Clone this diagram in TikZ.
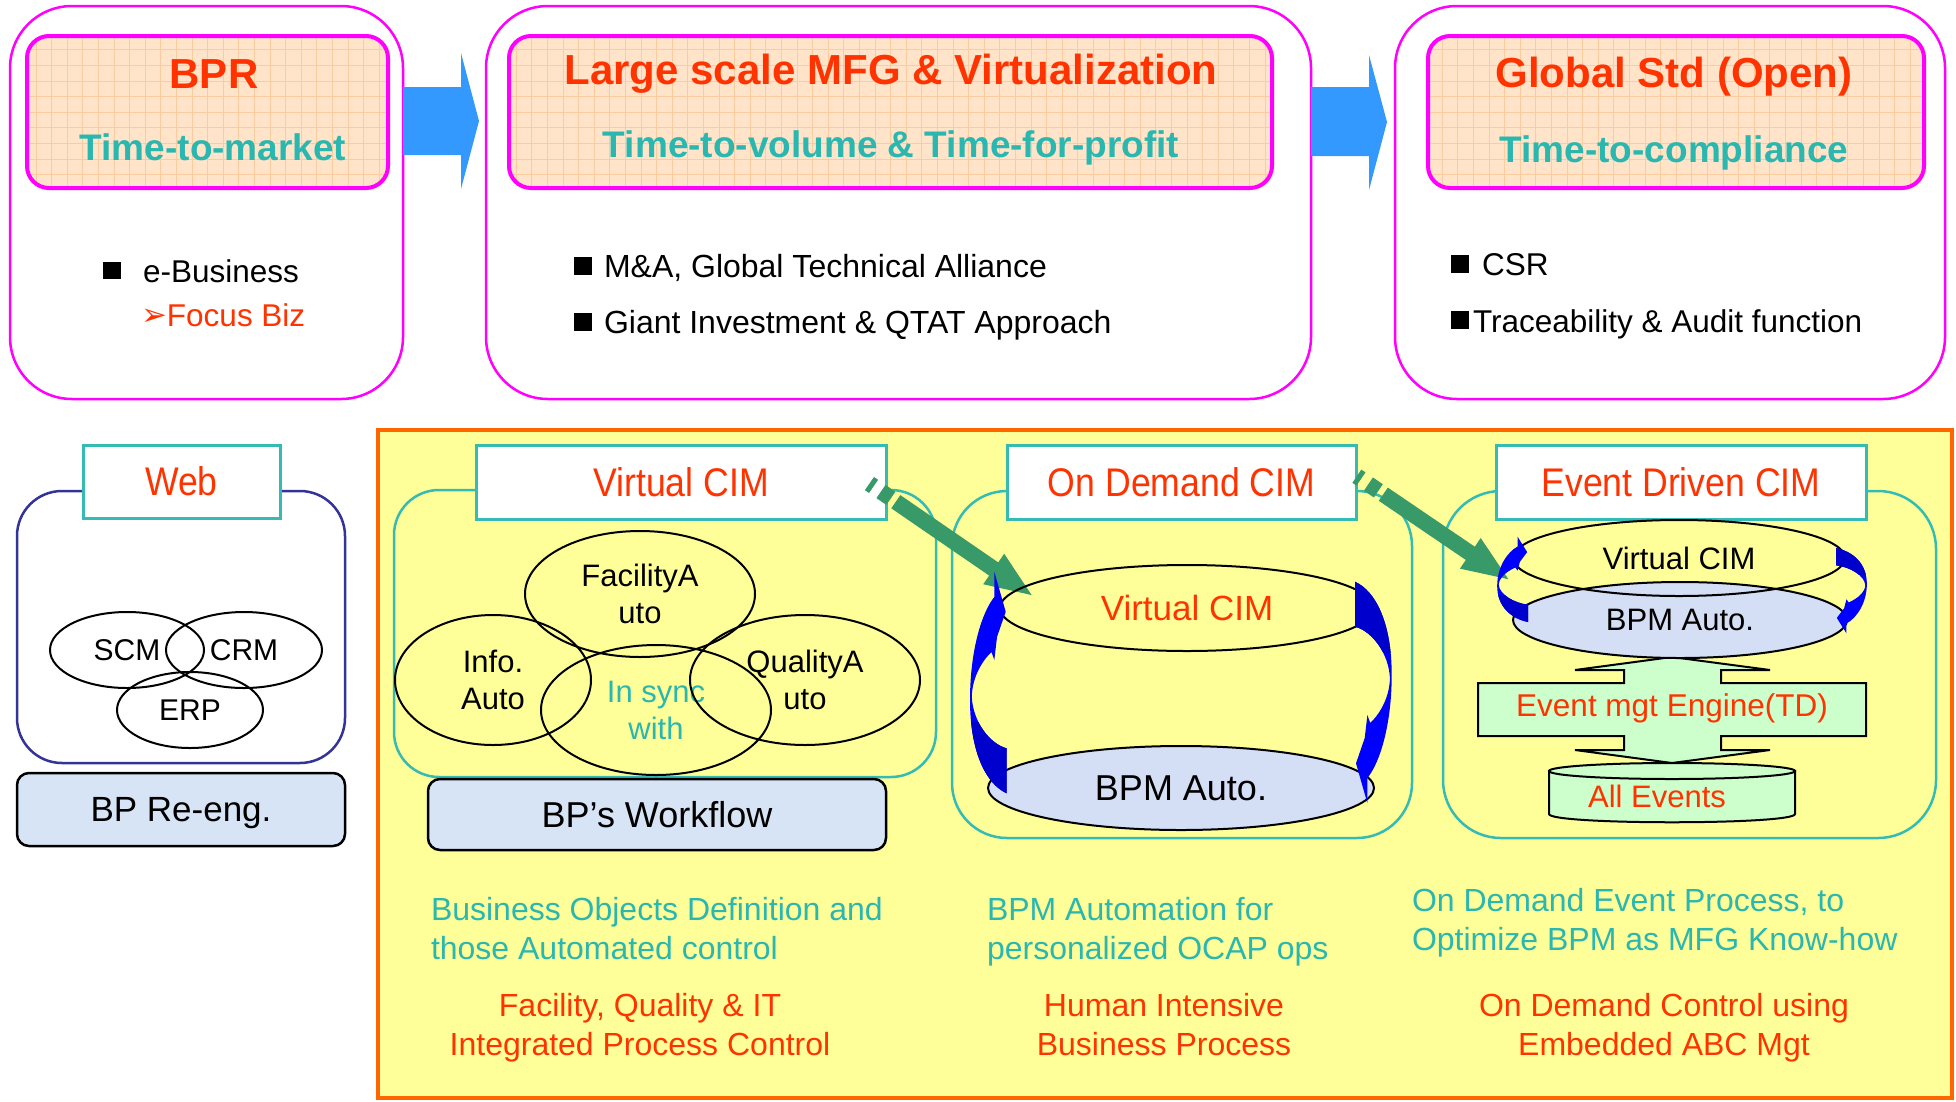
\documentclass[tikz,border=0pt]{standalone}
\usepackage{fontspec}
\setmainfont{Liberation Sans}
\newfontfamily\narrowfont[FakeStretch=0.89]{Liberation Sans}
\newfontfamily\dejavu{DejaVu Sans}
\usetikzlibrary{shapes.geometric}
\definecolor{magentaB}{RGB}{255,0,255}
\definecolor{redT}{RGB}{255,51,0}
\definecolor{tealT}{RGB}{42,183,175}
\definecolor{tealL}{RGB}{51,187,180}
\definecolor{peach}{RGB}{255,228,202}
\definecolor{gridC}{RGB}{250,204,160}
\definecolor{arrowBlue}{RGB}{51,153,255}
\definecolor{navyB}{RGB}{51,51,153}
\definecolor{orangeF}{RGB}{255,102,0}
\definecolor{yellowF}{RGB}{255,255,153}
\definecolor{greenA}{RGB}{56,154,104}
\definecolor{lightGreen}{RGB}{204,255,204}
\definecolor{ribbonBlue}{RGB}{0,0,255}
\definecolor{ribbonDark}{RGB}{0,0,204}
\definecolor{texBlue}{RGB}{214,228,245}
\definecolor{texLav}{RGB}{212,222,245}
\newcommand{\fsz}[2]{\fontsize{#1}{#2}\selectfont}
\newcommand{\ribbon}{%
 \fill[ribbonBlue] (1006.7,748.3) -- (1006.7,793.3) .. controls (986,784) and (970,752) .. (970,700) .. controls (970,650) and (982,612) .. (994.3,597) -- (994.3,571.7) -- (1005.7,611.7) -- (997,637) -- (994.3,660) -- (991.5,652) .. controls (980,663) and (972,680) .. (971.8,697) .. controls (973,722) and (990,744) .. (1006.7,748.3) -- cycle;
 \begin{scope}
 \clip (1006.7,748.3) -- (1006.7,793.3) .. controls (986,784) and (970,752) .. (970,700) .. controls (970,650) and (982,612) .. (994.3,597) -- (994.3,571.7) -- (1005.7,611.7) -- (997,637) -- (994.3,660) -- (991.5,652) .. controls (980,663) and (972,680) .. (971.8,697) .. controls (973,722) and (990,744) .. (1006.7,748.3) -- cycle;
 \fill[ribbonDark] (955,722) rectangle (1012,800);
 \end{scope}}
\newcommand{\greenarrow}[1]{%
 \fill[greenA] (0,-8) -- ({#1-46},-8) -- ({#1-46},-18.5) -- (#1,0) -- ({#1-46},18.5) -- ({#1-46},8) -- (0,8) -- cycle;
 \fill[greenA] (-18,-8) rectangle (-6,8);
 \fill[greenA] (-32,-8) rectangle (-27,8);}
\begin{document}
\begin{tikzpicture}[x=1pt,y=-1pt,
  every node/.style={inner sep=0pt, outer sep=0pt},
  outerbox/.style={draw=magentaB, line width=2.5pt, rounded corners=62pt, fill=white, minimum height=393pt},
  headbox/.style={draw=magentaB, line width=4pt, rounded corners=22pt, fill=peach, minimum height=152pt,
    path picture={\draw[gridC, line width=0.5pt, step=15.6pt] (path picture bounding box.south west) grid (path picture bounding box.north east);}},
  headtxt/.style={anchor=base, font=\bfseries\fsz{42}{42}, text=redT},
  subtxt/.style={anchor=base, font=\bfseries\fsz{37}{37}, text=tealT},
  bullettxt/.style={anchor=base west, font=\fsz{31.5}{31.5}},
  titlebox/.style={draw=tealL, line width=3pt, fill=white, font=\narrowfont\fsz{40}{40}, text=redT, minimum height=74pt},
  cimbox/.style={draw=tealL, line width=2.5pt},
  ell/.style={ellipse, draw=black, line width=2pt, font=\fsz{31}{37}, align=center},
  procbox/.style={draw=black, line width=2.5pt, rounded corners=12pt, fill=texBlue, text depth=0pt},
  tealnote/.style={anchor=north west, align=left, font=\fsz{32}{39}, text=tealT},
  rednote/.style={anchor=north, align=center, font=\fsz{32}{39}, text=redT}
]
\useasboundingbox (0,0) rectangle (1956,1101);
\fill[white] (0,0) rectangle (1956,1101);

% ---------- top row ----------
\node[outerbox, minimum width=393pt] (top1) at (206.5,202.5) {};
\node[outerbox, minimum width=825pt] (top2) at (898.5,202.5) {};
\node[outerbox, minimum width=550pt] (top3) at (1670,202.5) {};
\node[headbox, minimum width=361pt] (head1) at (207.5,112) {};
\node[headbox, minimum width=763pt] (head2) at (890.5,112) {};
\node[headbox, minimum width=496pt] (head3) at (1676,112) {};

\node[headtxt] (bpr) at (214,88) {BPR};
\node[subtxt] (ttm) at (213,160) {Time-to-market};
\node[headtxt] (lsm) at (891,84) {Large scale MFG \& Virtualization};
\node[subtxt] (ttv) at (891,157) {Time-to-volume \& Time-for-profit};
\node[headtxt] (gso) at (1674,87) {Global Std (Open)};
\node[subtxt] (ttc) at (1674,162) {Time-to-compliance};

\node[bullettxt] (eb) at (103,282) {\rule[3pt]{18pt}{17pt}\hspace{22pt}e-Business};
\node[bullettxt, text=redT] (fb) at (141,326) {\raisebox{1pt}{\dejavu\fsz{31}{31}➢}Focus Biz};
\node[bullettxt, font=\fsz{32}{32}] (ma) at (574,277) {\rule[2pt]{18pt}{18pt}\hspace{12pt}M\&A, Global Technical Alliance};
\node[bullettxt, font=\fsz{32}{32}] (gi) at (574,333) {\rule[2pt]{18pt}{18pt}\hspace{12pt}Giant Investment \& QTAT Approach};
\node[bullettxt] (csr) at (1451,275) {\rule[2pt]{18pt}{18pt}\hspace{13pt}CSR};
\node[bullettxt] (tra) at (1451,332) {\rule[3pt]{18pt}{18pt}\hspace{4pt}Traceability \& Audit function};

\fill[arrowBlue] (403,87) -- (461,87) -- (461,53) -- (479,121) -- (461,189) -- (461,155) -- (403,155) -- cycle;
\fill[arrowBlue] (1311,87) -- (1369,87) -- (1369,55) -- (1387,122) -- (1369,190) -- (1369,156) -- (1311,156) -- cycle;

% ---------- Web ----------
\node[draw=navyB, line width=2.5pt, rounded corners=45pt, fill=white, minimum width=328pt, minimum height=272pt] (webbox) at (181,627) {};
\node[titlebox, minimum width=197pt, minimum height=73pt] (webtitle) at (181.5,481.5) {Web};
\node[ell, minimum width=154pt, minimum height=76pt, font=\fsz{30}{30}] (scm) at (127,650) {SCM};
\node[ell, minimum width=156pt, minimum height=76pt, font=\fsz{30}{30}] (crm) at (244,650) {CRM};
\node[ell, minimum width=146pt, minimum height=76pt, font=\fsz{30}{30}] (erp) at (190,710) {ERP};
\node[procbox, minimum width=328pt, minimum height=73pt, font=\fsz{35}{35}] (bpre) at (181,809.5) {BP Re-eng.};

% ---------- main frame ----------
\node[draw=orangeF, line width=4.5pt, fill=yellowF, minimum width=1574pt, minimum height=668pt] (frame) at (1165,764) {};

\node[cimbox, rounded corners=45pt, minimum width=542pt, minimum height=287pt] (vbox) at (665,633.5) {};
\node[cimbox, rounded corners=55pt, minimum width=460pt, minimum height=347pt] (obox) at (1182,664.5) {};
\node[cimbox, rounded corners=58pt, minimum width=493pt, minimum height=347pt] (ebox) at (1689.5,664.5) {};
\node[titlebox, minimum width=410pt] (vtitle) at (681,482) {Virtual CIM};
\node[titlebox, minimum width=349pt] (otitle) at (1181.5,482) {On Demand CIM};
\node[titlebox, minimum width=370pt] (etitle) at (1681,482) {Event Driven CIM};

% Virtual CIM
\node[ell, minimum width=230pt, minimum height=126pt] (fac) at (640,594) {FacilityA\\uto};
\node[ell, minimum width=196pt, minimum height=130pt] (info) at (493,680) {Info.\\Auto};
\node[ell, minimum width=230pt, minimum height=130pt, text=tealT] (sync) at (656,710) {In sync\\with};
\node[ell, minimum width=230pt, minimum height=130pt] (qual) at (805,680) {QualityA\\uto};
\node[procbox, minimum width=458pt, minimum height=71pt, font=\fsz{36}{36}] (bpw) at (657,814.5) {BP’s Workflow};

% green striped arrows
\begin{scope}[shift={(895.8,501.7)}, rotate=-34.5]\greenarrow{164.8}\end{scope}
\begin{scope}[shift={(1383.3,494.2)}, rotate=-34.2]\greenarrow{151.2}\end{scope}

% On Demand CIM
\node[ell, minimum width=374pt, minimum height=86pt, font=\fsz{35}{35}, text=redT] (ovc) at (1187,608) {Virtual CIM};
\node[ell, minimum width=386pt, minimum height=84pt, fill=texLav, font=\fsz{36}{36}] (obpm) at (1181,788) {BPM Auto.};
\ribbon
\begin{scope}[rotate around={180:(1180.85,687.5)}]\ribbon\end{scope}

% Event Driven CIM
\filldraw[fill=lightGreen, draw=black, line width=2pt] (1672,657) -- (1770,670) -- (1721,670) -- (1721,683) -- (1866,683) -- (1866,736) -- (1721,736) -- (1721,750) -- (1770,750) -- (1672,763) -- (1575,750) -- (1624,750) -- (1624,736) -- (1478,736) -- (1478,683) -- (1624,683) -- (1624,670) -- (1575,670) -- cycle;
\node[anchor=base, font=\fsz{31.5}{31.5}, text=redT] (engine) at (1672,716) {Event mgt Engine(TD)};
\filldraw[fill=lightGreen, draw=black, line width=2pt] (1549,771) -- (1549,814) .. controls (1549,825) and (1795,825) .. (1795,814) -- (1795,771) -- cycle;
\filldraw[fill=lightGreen, draw=black, line width=2pt] (1672,771) ellipse [x radius=123, y radius=8];
\node[anchor=base, font=\fsz{31}{31}, text=redT] (allev) at (1657,807) {All Events};
\node[ell, minimum width=334pt, minimum height=76pt, fill=texLav, font=\fsz{31}{31}] (ebpm) at (1680,620) {BPM Auto.};
\node[ell, minimum width=332pt, minimum height=76pt, font=\fsz{31}{31}] (evc) at (1679,558) {Virtual CIM};
\begin{scope}[shift={(1528,622)}, xscale=0.84, yscale=0.385, shift={(-1006.7,-793.3)}]\ribbon\end{scope}
\begin{scope}[rotate around={180:(1682,585)}, shift={(1528,622)}, xscale=0.84, yscale=0.385, shift={(-1006.7,-793.3)}]\ribbon\end{scope}

% notes
\node[tealnote] (n1) at (431,897) {Business Objects Definition and\\those Automated control};
\node[rednote] (r1) at (640,993) {Facility, Quality \& IT\\Integrated Process Control};
\node[tealnote] (n2) at (987,897) {BPM Automation for\\personalized OCAP ops};
\node[rednote] (r2) at (1164,993) {Human Intensive\\Business Process};
\node[tealnote] (n3) at (1412,888) {On Demand Event Process, to\\Optimize BPM as MFG Know-how};
\node[rednote] (r3) at (1664,993) {On Demand Control using\\Embedded ABC Mgt};
\end{tikzpicture}
\end{document}
